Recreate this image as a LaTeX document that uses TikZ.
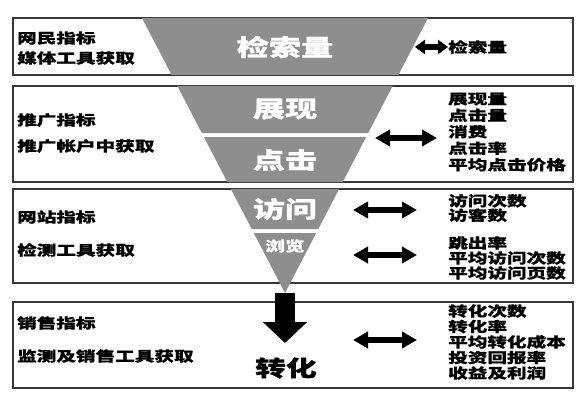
\documentclass[tikz,border=0pt]{standalone}
\usepackage{fontspec}
\usepackage{tikz}
\usetikzlibrary{arrows.meta,positioning,calc}
\newfontfamily\cjk{Noto Sans CJK SC}[FakeStretch=1.4, BoldFeatures={FakeBold=0.6}]
\definecolor{fnlgray}{HTML}{8E8E8E}
\definecolor{boxline}{HTML}{383838}
\tikzset{
  stageBox/.style={draw=boxline, line width=1.3pt},
  funnelBand/.style={fill=fnlgray, draw=none},
  funnelText/.style={text=white, inner sep=0pt, font=\cjk\bfseries\fontsize{23}{23}\selectfont},
  leftText/.style={anchor=west, inner sep=0pt, font=\cjk\bfseries\fontsize{14}{14}\selectfont},
  rightText/.style={anchor=west, inner sep=0pt, align=left, font=\cjk\bfseries\fontsize{14}{15.5}\selectfont},
  dblArrow/.style={{Triangle[length=15pt,width=16pt]}-{Triangle[length=15pt,width=16pt]}, line width=5.5pt},
  shortArrow/.style={{Triangle[length=10pt,width=14pt]}-{Triangle[length=10pt,width=14pt]}, line width=5.5pt},
  downArrow/.style={-{Triangle[length=21pt,width=43pt]}, line width=20pt}
}

\begin{document}
\begin{tikzpicture}[x=1pt,y=-1pt]
  \useasboundingbox (0,0) rectangle (585,401);
  % stage boxes
  \draw[stageBox] (13,18) rectangle (573,75);
  \draw[stageBox] (13,86) rectangle (573,182);
  \draw[stageBox] (13,189) rectangle (573,283);
  \draw[stageBox] (13,302) rectangle (573,388);
  % funnel bands, apex at (285,293)
  \foreach \ya/\yb in {18/75,86/133,137/182,189/229,233/293}
    \fill[funnelBand] ({285-0.52*(293-\ya)},\ya) -- ({285+0.52*(293-\ya)},\ya)
      -- ({285+0.52*(293-\yb)},\yb) -- ({285-0.52*(293-\yb)},\yb) -- cycle;
  \node[funnelText] (search) at (285,47) {检索量};
  \node[funnelText] (show) at (285,109) {展现};
  \node[funnelText] (click) at (285,160) {点击};
  \node[funnelText] (visit) at (285,209) {访问};
  \node[funnelText, font=\cjk\bfseries\fontsize{14}{14}\selectfont] (browse) at (285,246) {浏览};
  % conversion
  \coordinate (apex) at (285,293);
  \coordinate (downtip) at (285,343);
  \draw[downArrow] (apex) -- (downtip);
  \node[inner sep=0pt, font=\cjk\bfseries\fontsize{22}{22}\selectfont] (conv) at (286,368) {转化};
  % left labels
  \node[leftText] (ind1) at (17,38) {网民指标};
  \node[leftText] (src1) at (17,58) {媒体工具获取};
  \node[leftText] (ind2) at (17,120) {推广指标};
  \node[leftText] (src2) at (17,146) {推广帐户中获取};
  \node[leftText] (ind3) at (17,217) {网站指标};
  \node[leftText] (src3) at (17,250) {检测工具获取};
  \node[leftText] (ind4) at (17,323) {销售指标};
  \node[leftText] (src4) at (17,356) {监测及销售工具获取};
  % right metrics
  \node[rightText] (met1) at (448,47) {检索量};
  \node[rightText, font=\cjk\bfseries\fontsize{14}{16.5}\selectfont] (met2) at (448,132)
    {展现量\\点击量\\消费\\点击率\\平均点击价格};
  \node[rightText, font=\cjk\bfseries\fontsize{14}{14.5}\selectfont] (met3a) at (448,208)
    {访问次数\\访客数};
  \node[rightText, font=\cjk\bfseries\fontsize{14}{15}\selectfont] (met3b) at (448,258)
    {跳出率\\平均访问次数\\平均访问页数};
  \node[rightText] (met4) at (448,342)
    {转化次数\\转化率\\平均转化成本\\投资回报率\\收益及利润};
  % links
  \coordinate (l1) at (415,47);
  \coordinate (l2) at (375,138);
  \coordinate (r2) at (437,138);
  \coordinate (l3a) at (353,210);
  \coordinate (r3a) at (417,210);
  \coordinate (l3b) at (353,255);
  \coordinate (r3b) at (417,255);
  \coordinate (l4) at (353,340);
  \coordinate (r4) at (417,340);
  \draw[shortArrow] (l1) -- (met1.west);
  \draw[dblArrow] (l2) -- (r2);
  \draw[dblArrow] (l3a) -- (r3a);
  \draw[dblArrow] (l3b) -- (r3b);
  \draw[dblArrow] (l4) -- (r4);
\end{tikzpicture}
\end{document}
